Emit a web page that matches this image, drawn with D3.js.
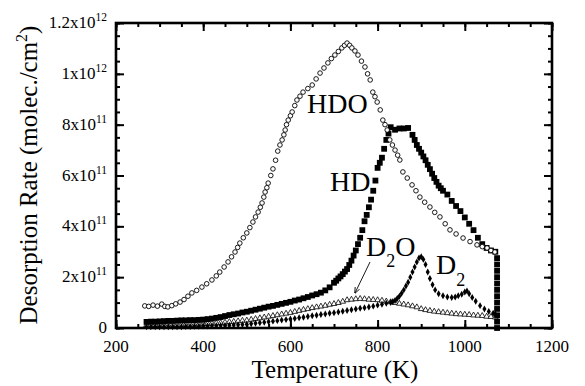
<!DOCTYPE html>
<html><head><meta charset="utf-8">
<script src="https://cdn.jsdelivr.net/npm/d3@7"></script>
<style>
html,body{margin:0;padding:0;background:#fff;}
</style></head>
<body><svg id="c" width="585" height="386"></svg>
<script>
// ---- data (values in units of 1e11 molec./cm2/s) ----
const hdoT = [266,275,285,295,305,312,319,328,337,347,356,365,374,385,397,408,420,430,438,448,457,465,473,479,484,492,500,507,514,520,526,531,535,539,542,546,549,555,560,566,571,576,581,585,588,591,595,600,604,610,615,622,629,640,650,659,668,677,686,694,702,710,718,724,730,736,741,748,755,763,771,777,783,789,794,799,806,812,817,822,828,834,840,846,851,858,868,879,888,897,908,920,931,943,955,966,980,996,1012,1028,1040,1051,1060,1069];
const hdoV = [0.87,0.85,0.90,0.86,0.94,0.85,0.83,0.88,0.95,1.02,1.12,1.25,1.38,1.48,1.61,1.74,1.89,2.05,2.20,2.40,2.60,2.80,2.99,3.17,3.34,3.55,3.74,3.95,4.17,4.37,4.56,4.75,4.92,5.15,5.35,5.52,5.70,6.0,6.26,6.6,6.96,7.2,7.40,7.6,7.79,8.0,8.18,8.35,8.50,8.75,8.97,9.12,9.28,9.42,9.56,9.80,10.03,10.23,10.43,10.6,10.74,10.88,11.02,11.12,11.21,11.12,11.02,10.9,10.74,10.5,10.27,10.0,9.76,9.28,9.1,8.89,8.58,8.18,8.0,7.79,7.40,7.2,7.00,6.8,6.61,6.14,5.9,5.63,5.4,5.15,4.95,4.76,4.55,4.37,4.1,3.86,3.7,3.54,3.4,3.27,3.2,3.15,3.05,2.99];

const hdT = [270,280,290,300,310,320,330,340,350,360,370,380,390,400,410,420,430,440,450,460,470,480,490,500,510,520,530,540,550,560,570,580,590,600,610,620,630,640,650,660,670,680,690,700,705,710,715,720,725,730,735,740,745,750,755,760,765,770,775,780,785,790,795,800,805,810,815,820,825,830,840,850,860,870,880,885,890,895,900,905,910,915,920,925,930,935,940,945,950,960,970,980,990,1000,1010,1020,1030,1040,1050,1060,1070,1074,1074,1074,1074,1074,1074,1074,1074,1074,1074,1074,1074];
const hdV = [0.24,0.25,0.25,0.26,0.27,0.28,0.28,0.29,0.30,0.30,0.31,0.31,0.32,0.33,0.35,0.37,0.40,0.43,0.47,0.51,0.54,0.57,0.61,0.64,0.68,0.72,0.76,0.80,0.84,0.87,0.91,0.95,0.99,1.03,1.08,1.12,1.17,1.22,1.28,1.33,1.39,1.48,1.60,1.78,1.86,1.95,2.03,2.12,2.22,2.32,2.48,2.65,2.85,3.05,3.3,3.55,3.85,4.2,4.45,4.75,5.05,5.4,5.8,6.3,6.5,6.7,7.05,7.4,7.65,7.9,7.8,7.85,7.85,7.87,7.6,7.4,7.2,7.05,6.9,6.75,6.6,6.42,6.25,6.07,5.9,5.75,5.6,5.5,5.4,5.25,5.0,4.8,4.6,4.35,4.1,3.85,3.55,3.3,3.15,3.05,3.0,2.75,2.5,2.25,2.0,1.75,1.5,1.25,1.0,0.75,0.5,0.25,0.0];

const d2oT = [270,280,290,300,310,320,330,340,350,360,370,380,390,400,410,420,430,440,450,460,470,480,490,500,510,520,530,540,550,560,570,580,590,600,610,620,630,640,650,660,670,680,690,700,710,720,730,740,750,760,770,780,790,800,810,820,830,840,850,860,870,880,890,900,910,920,930,940,950,960,970,980,990,1000,1010,1020,1030,1040,1050,1060,1070];
const d2oV = [0.12,0.11,0.12,0.12,0.11,0.10,0.11,0.12,0.12,0.13,0.13,0.14,0.14,0.15,0.17,0.18,0.19,0.20,0.22,0.24,0.25,0.27,0.29,0.30,0.33,0.36,0.39,0.42,0.45,0.48,0.51,0.54,0.57,0.60,0.64,0.68,0.72,0.75,0.79,0.82,0.85,0.88,0.92,0.95,0.99,1.04,1.10,1.12,1.14,1.15,1.14,1.12,1.11,1.10,1.08,1.05,1.02,0.99,0.96,0.93,0.90,0.86,0.82,0.75,0.71,0.68,0.65,0.63,0.61,0.59,0.57,0.55,0.54,0.53,0.52,0.50,0.49,0.48,0.45,0.44,0.42];

const d2T = [270,280,290,300,310,320,330,340,350,360,370,380,390,400,410,420,430,440,450,460,470,480,490,500,510,520,530,540,550,560,570,580,590,600,610,620,630,640,650,660,670,680,690,700,710,720,730,740,750,760,770,780,790,800,810,820,830,835,840,845,850,855,860,865,870,875,880,885,890,895,900,905,910,915,920,926,932,940,950,960,970,978,985,993,1000,1005,1010,1017,1025,1035,1045,1055,1065,1070];
const d2V = [0.05,0.05,0.05,0.05,0.05,0.05,0.05,0.05,0.05,0.06,0.06,0.07,0.07,0.08,0.08,0.09,0.09,0.10,0.10,0.11,0.12,0.13,0.14,0.15,0.17,0.19,0.21,0.23,0.25,0.27,0.29,0.31,0.33,0.35,0.37,0.40,0.42,0.45,0.48,0.50,0.53,0.55,0.58,0.60,0.63,0.66,0.69,0.72,0.75,0.78,0.80,0.83,0.86,0.90,0.93,0.97,1.00,1.04,1.08,1.16,1.25,1.37,1.5,1.65,1.8,2.0,2.2,2.4,2.6,2.75,2.8,2.7,2.5,2.2,1.95,1.7,1.5,1.35,1.27,1.22,1.2,1.22,1.27,1.33,1.42,1.46,1.35,1.2,1.05,0.88,0.75,0.65,0.58,0.55,0.52,0.50];

const xTicks = [200,400,600,800,1000,1200];
const yTickMant = ["0","2","4","6","8","1","1.2"];
const yTickExp  = ["","11","11","11","11","12","12"];
const yTickVals = [0,2e11,4e11,6e11,8e11,1e12,1.2e12];

// ---- layout ----
const FONT = "Liberation Serif";
const svg = d3.select("#c");
const L=116, R=552, T=23, B=328;
const x = d3.scaleLinear().domain([200,1200]).range([L,R]);
const y = d3.scaleLinear().domain([0,1.2e12]).range([B,T]);
const U = 1e11;

const minorX = d3.range(200,1201,50);
const minorY = d3.range(0,1.2e12+1,0.5e11);

function tickAxis(axisFn, scale, vals, size, tx, ty){
  const g = svg.append("g").attr("transform",`translate(${tx},${ty})`)
    .call(axisFn(scale).tickValues(vals).tickSize(size).tickFormat(""));
  g.select(".domain").remove();
  g.selectAll(".tick line").attr("stroke","#000").attr("stroke-width",2);
  return g;
}
tickAxis(d3.axisBottom,x,minorX,-4,0,B);
tickAxis(d3.axisBottom,x,xTicks,-8,0,B);
tickAxis(d3.axisTop,x,minorX,-4,0,T);
tickAxis(d3.axisTop,x,xTicks,-8,0,T);
tickAxis(d3.axisLeft,y,minorY,-4,L,0);
tickAxis(d3.axisLeft,y,yTickVals,-8,L,0);
tickAxis(d3.axisRight,y,minorY,-4,R,0);
tickAxis(d3.axisRight,y,yTickVals,-8,R,0);

svg.append("rect").attr("x",L).attr("y",T).attr("width",R-L).attr("height",B-T)
  .attr("fill","none").attr("stroke","#000").attr("stroke-width",2.6);

function txt(sel){ return sel.style("font-family",FONT).attr("fill","#000"); }

// x tick labels
txt(svg.append("g").selectAll("text").data(xTicks).join("text"))
  .attr("x",d=>x(d)).attr("y",B+24).attr("text-anchor","middle")
  .attr("font-size",17).text(d=>d);

// y tick labels
const yl = txt(svg.append("g").selectAll("text").data(yTickVals).join("text"))
  .attr("x",L-9).attr("y",d=>y(d)+5).attr("text-anchor","end").attr("font-size",17);
yl.each(function(d,i){
  const t=d3.select(this);
  if(yTickExp[i]===""){ t.text(yTickMant[i]); return; }
  t.append("tspan").text(yTickMant[i]+"x10");
  t.append("tspan").attr("font-size",11.5).attr("dy",-7).text(yTickExp[i]);
});

// axis titles
txt(svg.append("text")).attr("x",335).attr("y",378).attr("text-anchor","middle")
  .attr("font-size",25).text("Temperature (K)");
const yt = txt(svg.append("text")).attr("transform",`translate(37,175) rotate(-90)`)
  .attr("text-anchor","middle").attr("font-size",25);
yt.append("tspan").text("Desorption Rate (molec./cm");
yt.append("tspan").attr("font-size",16).attr("dy",-10).text("2");
yt.append("tspan").attr("dy",10).text(")");

// ---- series ----
const plot = svg.append("g");
const tri = d3.symbol().type(d3.symbolTriangle).size(14);
plot.append("g").selectAll("path").data(d2oT).join("path")
  .attr("d",tri).attr("transform",(d,i)=>`translate(${x(d)},${y(d2oV[i]*U)})`)
  .attr("fill","#fff").attr("stroke","#000").attr("stroke-width",0.8);
const dia = d3.symbol().type(d3.symbolDiamond).size(14);
plot.append("g").selectAll("path").data(d2T).join("path")
  .attr("d",dia).attr("transform",(d,i)=>`translate(${x(d)},${y(d2V[i]*U)})`)
  .attr("fill","#000");
plot.append("g").selectAll("rect").data(hdT).join("rect")
  .attr("x",d=>x(d)-2.9).attr("y",(d,i)=>y(hdV[i]*U)-2.9)
  .attr("width",5.8).attr("height",5.8).attr("fill","#000");
plot.append("g").selectAll("circle").data(hdoT).join("circle")
  .attr("cx",d=>x(d)).attr("cy",(d,i)=>y(hdoV[i]*U)).attr("r",2.3)
  .attr("fill","#fff").attr("stroke","#000").attr("stroke-width",0.9);

// ---- labels ----
txt(svg.append("text")).attr("x",307).attr("y",113).attr("font-size",28).text("HDO");
txt(svg.append("text")).attr("x",330).attr("y",191).attr("font-size",28).text("HD");
const d2o = txt(svg.append("text")).attr("x",366).attr("y",256).attr("font-size",28);
d2o.append("tspan").text("D");
d2o.append("tspan").attr("font-size",18).attr("dy",11).text("2");
d2o.append("tspan").attr("dy",-11).text("O");
const d2 = txt(svg.append("text")).attr("x",436).attr("y",274).attr("font-size",28);
d2.append("tspan").text("D");
d2.append("tspan").attr("font-size",18).attr("dy",12).text("2");

svg.append("defs").append("marker").attr("id","ah").attr("viewBox","0 0 10 10")
  .attr("refX",9).attr("refY",5).attr("markerWidth",7).attr("markerHeight",7)
  .attr("orient","auto").append("path").attr("d","M0,1 L10,5 L0,9").attr("fill","none").attr("stroke","#000").attr("stroke-width",1.3);
svg.append("line").attr("x1",370).attr("y1",262).attr("x2",355).attr("y2",293)
  .attr("stroke","#000").attr("stroke-width",0.9).attr("marker-end","url(#ah)");
</script></body></html>
